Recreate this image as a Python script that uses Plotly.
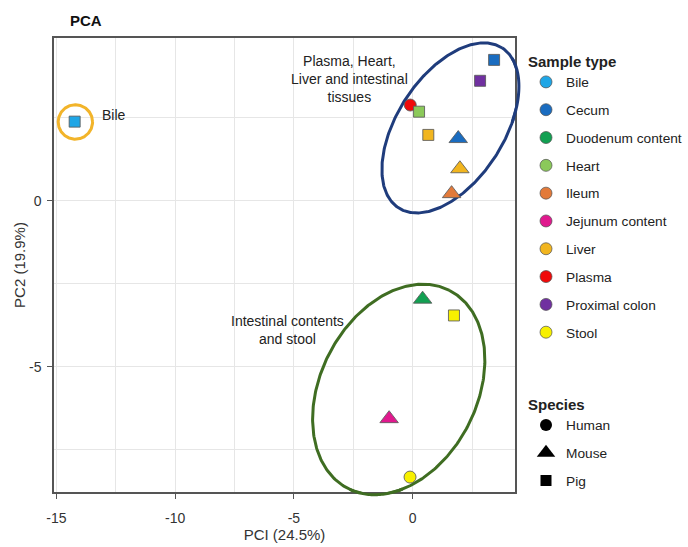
import numpy as np
import plotly.graph_objects as go

# ---------------- data ----------------
sample_types = ["Bile", "Cecum", "Duodenum content", "Heart", "Ileum",
                "Jejunum content", "Liver", "Plasma", "Proximal colon", "Stool"]
sample_colors = ["#1fa6e6", "#1a6cc0", "#12a052", "#8bc95a", "#e27a3a",
                 "#e0198e", "#f1b51f", "#f00a0a", "#7030a0", "#f7f000"]
species = ["Human", "Mouse", "Pig"]
species_symbols = ["circle", "triangle-up", "square"]

# samples (sample type, species, PC1, PC2)
pt_type = ["Bile", "Cecum", "Proximal colon", "Plasma", "Heart", "Liver",
           "Cecum", "Liver", "Ileum", "Duodenum content", "Stool",
           "Jejunum content", "Stool"]
pt_species = ["Pig", "Pig", "Pig", "Human", "Pig", "Pig",
              "Mouse", "Mouse", "Mouse", "Mouse", "Pig",
              "Mouse", "Human"]
pc1 = [-14.23, 3.43, 2.84, -0.10, 0.27, 0.66, 1.92, 1.99, 1.64, 0.42, 1.74, -0.99, -0.11]
pc2 = [2.39, 4.25, 3.62, 2.89, 2.69, 1.99, 1.88, 0.97, 0.22, -2.96, -3.45, -6.56, -8.32]

x_ticks = [-15, -10, -5, 0]
x_ticktext = ["-15", "-10", "-5", "0"]
y_ticks = [0, -5]
y_ticktext = ["0", "-5"]

X_RANGE = [-15.1, 4.31]
Y_RANGE = [-8.77, 4.91]

# figure / plot area geometry
FIG_W, FIG_H = 688, 547
M_L, M_R, M_T, M_B = 54, 173, 38, 55
PLOT_W, PLOT_H = FIG_W - M_L - M_R, FIG_H - M_T - M_B
PXX = PLOT_W / (X_RANGE[1] - X_RANGE[0])
PXY = PLOT_H / (Y_RANGE[1] - Y_RANGE[0])


def ellipse(cx, cy, a, b, theta_deg, n=360):
    t = np.linspace(0, 2 * np.pi, n)
    th = np.radians(theta_deg)
    dx = a * np.cos(t) * np.cos(th) - b * np.sin(t) * np.sin(th)
    dy = a * np.cos(t) * np.sin(th) + b * np.sin(t) * np.cos(th)
    return cx + dx / PXX, cy + dy / PXY


def edge_segments(ex, ey, pad_px=3):
    """Parts of an outline that run past the plot frame (as paper coords)."""
    xp = (ex - X_RANGE[0]) / (X_RANGE[1] - X_RANGE[0])
    yp = (ey - Y_RANGE[0]) / (Y_RANGE[1] - Y_RANGE[0])
    px, py = pad_px / PLOT_W, pad_px / PLOT_H
    mask = (xp > 1 - px) | (xp < px) | (yp > 1 - py) | (yp < py)
    if not mask.any():
        return []
    s = int(np.argmin(mask))
    xp, yp, mask = np.roll(xp, -s), np.roll(yp, -s), np.roll(mask, -s)
    segs, cur = [], []
    for xv, yv, m in zip(xp, yp, mask):
        if m:
            cur.append((xv, yv))
        elif cur:
            segs.append(cur)
            cur = []
    if cur:
        segs.append(cur)
    return [sg for sg in segs if len(sg) > 1]


fig = go.Figure()

# ellipses / circle (group outlines): centre (data), semi-axes (px), angle
outlines = [
    (1.59, 2.20, 95.3, 53.3, 57.0, "#1f3c7c"),
    (-0.585, -5.68, 111.3, 78.2, 62.85, "#3f6d22"),
    (-14.20, 2.38, 17.2, 17.2, 0.0, "#f2b42a"),
]
for cx, cy, a, b, th, col in outlines:
    ex, ey = ellipse(cx, cy, a, b, th)
    fig.add_trace(go.Scatter(x=ex, y=ey, mode="lines",
                             line=dict(color=col, width=3),
                             hoverinfo="skip", showlegend=False))
    for seg in edge_segments(ex, ey):
        path = "M " + " L ".join(f"{u:.5f},{v:.5f}" for u, v in seg)
        fig.add_shape(type="path", path=path, xref="paper", yref="paper",
                      line=dict(color=col, width=3), layer="above")

sizes = {"circle": 12, "triangle-up": 16, "square": 11}
for i in range(len(pc1)):
    col = sample_colors[sample_types.index(pt_type[i])]
    sym = species_symbols[species.index(pt_species[i])]
    fig.add_trace(go.Scatter(
        x=[pc1[i]], y=[pc2[i]], mode="markers",
        marker=dict(color=col, symbol=sym, size=sizes[sym],
                    line=dict(color="rgba(90,90,90,0.85)", width=1)),
        name=f"{pt_type[i]} ({pt_species[i]})", showlegend=False))

# legend entries: sample type
for i, (st, col) in enumerate(zip(sample_types, sample_colors)):
    fig.add_trace(go.Scatter(
        x=[None], y=[None], mode="markers", name=st,
        marker=dict(color=col, symbol="circle", size=12,
                    line=dict(color="rgba(80,80,80,0.7)", width=1)),
        legend="legend", legendgroup="st" + str(i)))
# legend entries: species
sp_sizes = [12, 17, 11]
for i, (sp, sym) in enumerate(zip(species, species_symbols)):
    fig.add_trace(go.Scatter(
        x=[None], y=[None], mode="markers", name=sp,
        marker=dict(color="black", symbol=sym, size=sp_sizes[i]),
        legend="legend2", legendgroup="sp" + str(i)))

FONT = "Liberation Sans, Arial, sans-serif"

fig.add_annotation(x=-13.18, y=2.59, xref="x", yref="y", text="Bile",
                   showarrow=False, xanchor="left", yanchor="middle",
                   font=dict(size=14, color="#222"))
fig.add_annotation(x=-2.64, y=3.66, xref="x", yref="y",
                   text="Plasma, Heart,<br>Liver and intestinal<br>tissues",
                   showarrow=False, xanchor="center", yanchor="middle",
                   align="center", font=dict(size=14, color="#222"))
fig.add_annotation(x=-5.25, y=-3.89, xref="x", yref="y",
                   text="Intestinal contents<br>and stool",
                   showarrow=False, xanchor="center", yanchor="middle",
                   align="center", font=dict(size=14, color="#222"))

fig.update_layout(
    width=FIG_W, height=FIG_H,
    margin=dict(l=M_L, r=M_R, t=M_T, b=M_B),
    paper_bgcolor="white", plot_bgcolor="white",
    font=dict(family=FONT, size=14, color="#222"),
    title=dict(text="<b>PCA</b>", x=70 / FIG_W, xanchor="left",
               y=1 - 21 / FIG_H, yanchor="middle", xref="container", yref="container",
               font=dict(size=15, color="#111")),
    legend=dict(title=dict(text="<b>Sample type</b>", font=dict(size=15)),
                xref="container", yref="container",
                x=526 / FIG_W, y=1 - 47 / FIG_H, xanchor="left", yanchor="top",
                tracegroupgap=7, font=dict(size=13.7), bgcolor="rgba(0,0,0,0)",
                maxheight=600),
    legend2=dict(title=dict(text="<b>Species</b>", font=dict(size=15)),
                 xref="container", yref="container",
                 x=526 / FIG_W, y=1 - 390 / FIG_H, xanchor="left", yanchor="top",
                 tracegroupgap=7, font=dict(size=13.7), bgcolor="rgba(0,0,0,0)",
                 maxheight=300),
    xaxis=dict(range=X_RANGE, tickvals=x_ticks, ticktext=x_ticktext, automargin=False,
               ticks="outside", ticklen=5, ticklabelstandoff=7,
               tickcolor="#555", showline=True, mirror=True, linecolor="#555",
               linewidth=1.5, showgrid=True, gridcolor="#e6e6e6", gridwidth=1,
               zeroline=False, tickfont=dict(size=14, color="#333"),
               minor=dict(dtick=2.5, tick0=0, showgrid=True, gridcolor="#e6e6e6", ticks=""),
               title=dict(text="PCI (24.5%)", font=dict(size=15, color="#333"), standoff=5)),
    yaxis=dict(range=Y_RANGE, tickvals=y_ticks, ticktext=y_ticktext, automargin=False,
               ticks="outside", ticklen=5, ticklabelstandoff=3, tickcolor="#555",
               showline=True, mirror=True,
               linecolor="#555", linewidth=1.5, showgrid=True, gridcolor="#e6e6e6",
               zeroline=False, tickfont=dict(size=14, color="#333"),
               minor=dict(dtick=2.5, tick0=0, showgrid=True, gridcolor="#e6e6e6", ticks=""),
               title=dict(text="PC2 (19.9%)", font=dict(size=15, color="#333"), standoff=0)),
)

fig.write_html("out.html", config={"displayModeBar": False},
               post_script="document.body.style.margin='0';document.body.style.padding='0';")
